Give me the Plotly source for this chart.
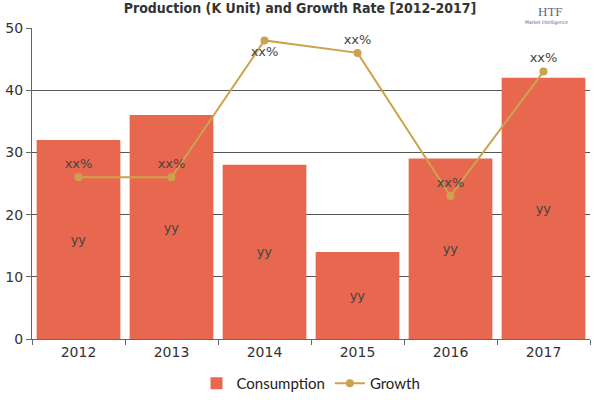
import plotly.graph_objects as go

years = ["2012", "2013", "2014", "2015", "2016", "2017"]
consumption = [32, 36, 28, 14, 29, 42]
growth = [26, 26, 48, 46, 23, 43]
bar_labels = ["yy"] * 6
growth_labels = ["xx%"] * 6
growth_label_pos = ["top center", "top center", "bottom center", "top center", "top center", "top center"]

fig = go.Figure()
fig.add_trace(go.Bar(
    x=years, y=consumption, name="Consumption",
    marker=dict(color="#E8684F", line=dict(width=0)),
    text=bar_labels, textposition="inside", insidetextanchor="middle",
    textfont=dict(family="DejaVu Sans", size=13, color="#444444"),
    cliponaxis=False,
))
fig.add_trace(go.Scatter(
    x=years, y=growth, name="Growth", mode="lines+markers+text",
    line=dict(color="#CDA24D", width=2),
    marker=dict(color="#CDA24D", size=8),
    text=growth_labels, textposition=growth_label_pos,
    textfont=dict(family="DejaVu Sans", size=13, color="#444444"),
    cliponaxis=False,
))

fig.update_layout(
    width=600, height=400,
    margin=dict(l=32, r=10, t=28, b=61, autoexpand=False),
    paper_bgcolor="white", plot_bgcolor="white",
    bargap=0.1,
    title=dict(text="<b>Production (K Unit) and Growth Rate [2012-2017]</b>",
               x=0.5, xanchor="center", y=0.992, yanchor="top",
               font=dict(family="DejaVu Sans Condensed", size=14, color="#333333")),
    showlegend=True,
    legend=dict(orientation="h", x=0.5, xanchor="center", yref="container", y=0.0, yanchor="bottom",
                font=dict(family="Lato", size=15, color="#222222"),
                itemwidth=30, traceorder="normal"),
    xaxis=dict(showline=True, linecolor="#666666", linewidth=1,
               ticks="outside", tickcolor="#666666", ticklen=5, tickson="boundaries",
               tickfont=dict(family="DejaVu Sans", size=14, color="#333333"),
               showgrid=False),
    yaxis=dict(range=[0, 50], dtick=10, showline=True, linecolor="#666666", linewidth=1,
               ticks="outside", tickcolor="#666666", ticklen=5,
               showgrid=True, gridcolor="#555555", gridwidth=1, zeroline=False,
               tickfont=dict(family="DejaVu Sans", size=14, color="#333333")),
)

fig.add_annotation(text="HTF", xref="paper", yref="paper", x=0.955, y=1.085,
                   showarrow=False, font=dict(family="Liberation Serif", size=13, color="#5a6a80"))
fig.add_annotation(text="Market Intelligence", xref="paper", yref="paper", x=0.965, y=1.0,
                   yanchor="bottom",
                   showarrow=False, font=dict(family="DejaVu Sans Condensed", size=5, color="#5a6a80"))

fig.write_html("out.html")
